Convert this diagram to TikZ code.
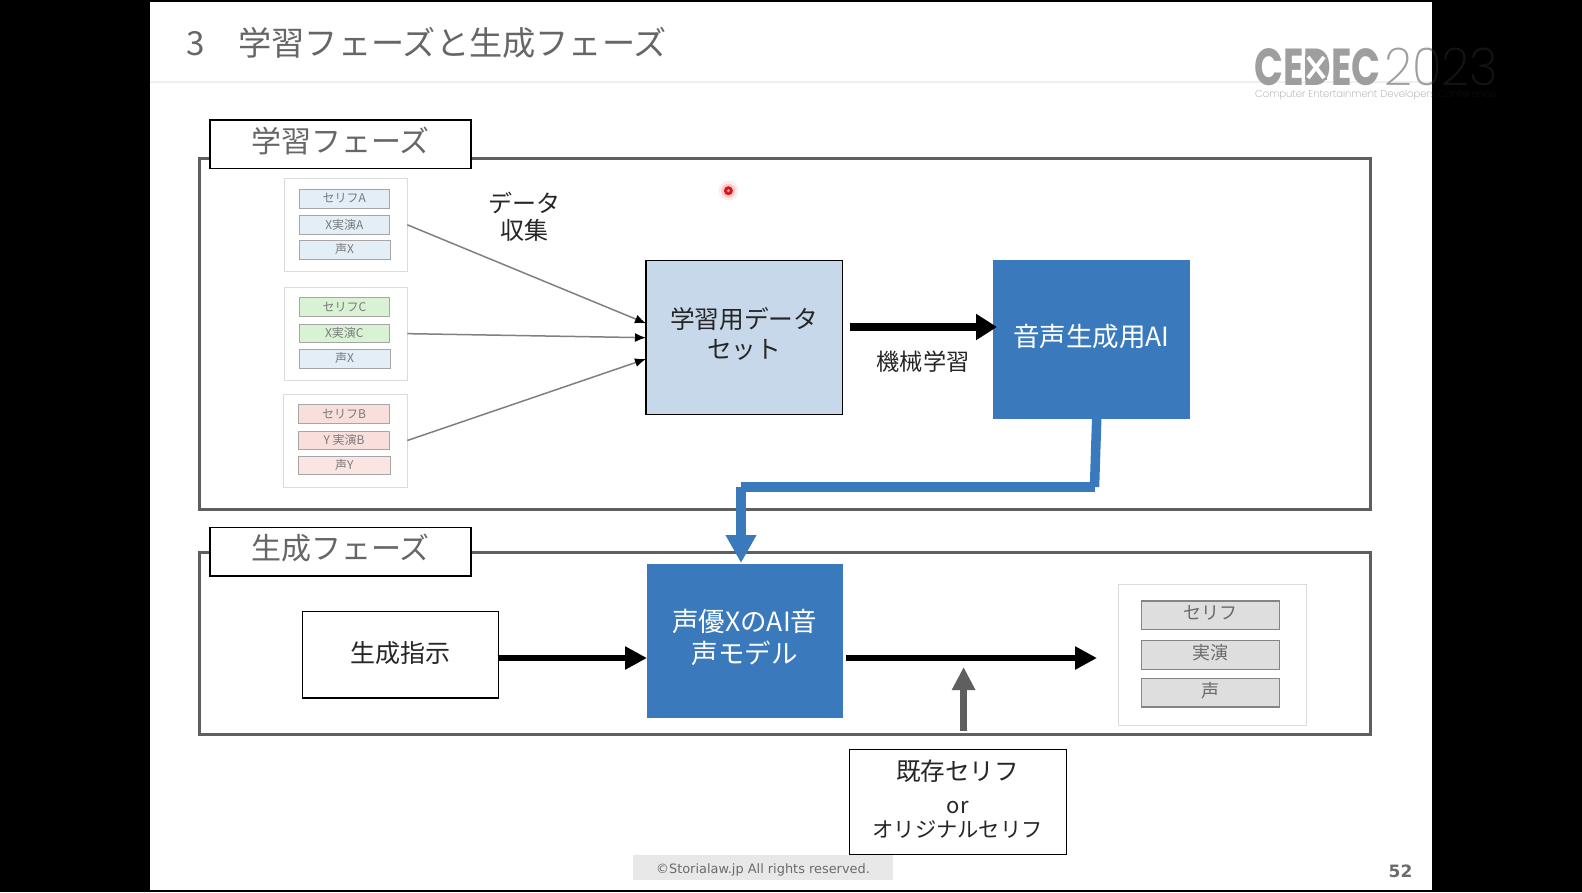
\documentclass[tikz,border=0pt]{standalone}
\usepackage{fontspec}
\usetikzlibrary{arrows.meta}
\setmainfont{Noto Sans CJK JP}
\newfontfamily\logofont{Poppins}[BoldFont=Poppins Bold]
\newfontfamily\logothin{Poppins ExtraLight}
\newfontfamily\latinfont{DejaVu Sans}
\definecolor{slidegray}{HTML}{666666}
\definecolor{framegray}{HTML}{5F5F5F}
\definecolor{aiblue}{HTML}{3A7ABC}
\definecolor{dsblue}{HTML}{C6D8E9}
\definecolor{rowblue}{HTML}{E3EEF6}
\definecolor{rowgreen}{HTML}{D9F2D4}
\definecolor{rowred}{HTML}{F8DFDB}
\definecolor{rowredl}{HTML}{FBE5E3}
\definecolor{inktext}{HTML}{262626}
\tikzset{
  framebox/.style={draw=framegray,line width=3pt,fill=white},
  tabbox/.style={draw=black,line width=1.5pt,fill=white,font=\fontsize{30}{32}\selectfont,text=slidegray},
  card/.style={draw=black!14,line width=1pt,fill=white},
  smallrow/.style={draw=black!35,line width=1pt,font=\fontsize{12}{14}\selectfont,text=black!52},
  bigrow/.style={draw=black!48,line width=1.5pt,fill=black!13,font=\fontsize{18}{20}\selectfont,text=black!58},
  dsbox/.style={draw=black,line width=1.5pt,fill=dsblue,font=\fontsize{24.7}{30}\selectfont,text=inktext},
  aibox/.style={fill=aiblue,font=\fontsize{26.5}{31}\selectfont,text=white},
  plainbox/.style={draw=black,line width=1.5pt,fill=white,text=inktext},
  thinarrow/.style={draw=black!50,line width=1.5pt,-{Latex[black,length=11pt,width=9pt]}},
  thickarrow/.style={draw=black,line width=6.5pt,-{Triangle[length=22pt,width=22pt]}},
  blueline/.style={draw=aiblue,line width=9.5pt,line cap=butt},
  freetext/.style={text=inktext,align=center,inner sep=0pt},
}
\newcommand{\bx}[7]{%
  \pgfmathsetmacro\bw{#5-#3}\pgfmathsetmacro\bh{#6-#4}%
  \node[#1,minimum width=\bw pt,minimum height=\bh pt,inner sep=0pt,outer sep=0pt] (#2) at ({(#3+#5)/2},{(#4+#6)/2}) {#7};}
\newcommand{\up}[2]{\raisebox{#1}[\height][\depth]{\begin{tabular}{@{}c@{}}#2\end{tabular}}}
\begin{document}
\begin{tikzpicture}[x=1pt,y=-1pt]
\useasboundingbox (0,0) rectangle (1582,892);
\fill[black] (0,0) rectangle (1582,892);
\fill[white] (150,2) rectangle (1432.3,890);
% title
\draw[black!6,line width=1.5pt] (150,82) -- (1432.3,82);
\node[anchor=west,inner sep=0pt,text=slidegray,font=\fontsize{33.2}{35}\selectfont] (title) at (186,43) {3\hspace{1.02em}学習フェーズと生成フェーズ};
% logo
\node[anchor=west,inner sep=0pt,text=black!38,font=\logofont\bfseries\fontsize{52}{52}\selectfont,xscale=.73,transform shape] (logoA) at (1254,67) {CEDEC};
\fill[black!38] (1305,55) rectangle (1327,80);
\draw[white,line width=4pt] (1308,57) -- (1324,78) (1324,57) -- (1308,78);
\node[anchor=west,inner sep=0pt,text=black!38,font=\logothin\fontsize{52}{52}\selectfont,xscale=.94,transform shape] (logoB) at (1384,67) {2023};
\node[anchor=west,inner sep=0pt,text=black!38,font=\logothin\fontsize{10}{12}\selectfont] (logoC) at (1255,95) {Computer Entertainment Developers Conference};
\fill[black,opacity=.87] (1432.3,0) rectangle (1582,120);
% frames
\bx{framebox}{frameA}{199}{158.5}{1370.5}{509.5}{}
\bx{framebox}{frameB}{199}{552}{1370.5}{734.5}{}
\bx{tabbox}{tabA}{210}{120}{471}{168.5}{\up{0pt}{学習フェーズ}}
\bx{tabbox}{tabB}{210}{527.7}{471}{576}{\up{0pt}{生成フェーズ}}
% pointer
\fill[red,opacity=.07] (728.4,190.7) circle (10);
\fill[red,opacity=.16] (728.4,190.7) circle (7);
\fill[red!80!black!90] (728.4,190.7) circle (4.5);
\fill[red!35] (728.4,190.7) circle (1.6);
% cards
\bx{card}{cardA}{284}{178.3}{407.3}{271.3}{}
\bx{card}{cardC}{284}{287.3}{407.3}{380}{}
\bx{card}{cardB}{283.3}{394}{407.3}{487}{}
\bx{smallrow,fill=rowblue}{a1}{299}{189}{389.7}{208.3}{\up{-1pt}{セリフA}}
\bx{smallrow,fill=rowblue}{a2}{299}{215.7}{389.7}{234.7}{\up{-1pt}{X実演A}}
\bx{smallrow,fill=rowblue}{a3}{299}{240.7}{390}{259.3}{\up{-1pt}{声X}}
\bx{smallrow,fill=rowgreen}{c1}{299}{297.7}{389.7}{316.7}{\up{-1pt}{セリフC}}
\bx{smallrow,fill=rowgreen}{c2}{299}{324}{389.7}{342.7}{\up{-1pt}{X実演C}}
\bx{smallrow,fill=rowblue}{c3}{299}{349}{390}{368}{\up{-1pt}{声X}}
\bx{smallrow,fill=rowred}{b1}{298.5}{404.7}{389.7}{423.7}{\up{-1pt}{セリフB}}
\bx{smallrow,fill=rowred}{b2}{298.5}{431}{389.7}{449.3}{\up{-1pt}{Y 実演B}}
\bx{smallrow,fill=rowredl}{b3}{298.5}{456}{390}{474.7}{\up{-1pt}{声Y}}
\node[freetext,font=\fontsize{24}{27}\selectfont] (collect) at (524,216.5) {データ\\収集};
% main boxes
\bx{dsbox}{ds}{646}{260.7}{842.5}{414.3}{\up{0pt}{学習用データ\\セット}}
\bx{aibox}{ai}{993}{260}{1190}{419}{\up{0pt}{音声生成用AI}}
\bx{aibox}{model}{647}{564}{842.5}{717.5}{\up{-0.5pt}{声優XのAI音\\声モデル}}
\bx{plainbox,font=\fontsize{25}{28}\selectfont}{cmd}{302.7}{611.5}{498.5}{698}{\up{-1pt}{生成指示}}
\node[freetext,font=\fontsize{23.2}{25}\selectfont] (mlabel) at (923,362) {機械学習};
% input box
\bx{plainbox}{src}{849.6}{749.7}{1066.5}{854.6}{}
\node[freetext,font=\fontsize{24.6}{27}\selectfont] (srcA) at (957.6,771) {既存セリフ};
\node[freetext,font=\fontsize{22}{24}\selectfont] (srcB) at (957.6,808) {or};
\node[freetext,font=\fontsize{21.3}{24}\selectfont] (srcC) at (957.6,829.4) {オリジナルセリフ};
% output card
\bx{card}{outcard}{1118.3}{584.7}{1306.7}{725.3}{}
\bx{bigrow}{o1}{1141.3}{601}{1279.3}{629.7}{\up{0pt}{セリフ}}
\bx{bigrow}{o2}{1141.3}{640.7}{1279.3}{669.3}{\up{0pt}{実演}}
\bx{bigrow}{o3}{1141.3}{678.7}{1279.7}{707}{\up{0pt}{声}}
% connector end points
\coordinate (dsinA) at (646,323.3);
\coordinate (dsinC) at (646,337.7);
\coordinate (dsinB) at (646,359);
\coordinate (dsout) at (850,327);
\coordinate (aiin) at (997,327);
\coordinate (aiout) at (1096.7,419);
\coordinate (bendA) at (1094.5,487);
\coordinate (bendB) at (741,487);
\coordinate (modelin) at (741,563);
\coordinate (cmdout) at (498.5,658);
\coordinate (modelinL) at (647,658);
\coordinate (modelout) at (845.5,658);
\coordinate (outin) at (1097,658);
\coordinate (srcout) at (963.6,730.5);
\coordinate (srcin) at (963.6,667);
% connectors
\draw[thinarrow] (cardA.east) -- (dsinA);
\draw[thinarrow] (cardC.east) -- (dsinC);
\draw[thinarrow] (cardB.east) -- (dsinB);
\draw[thickarrow,line width=8pt,-{Triangle[length=21pt,width=25pt]}] (dsout) -- (aiin);
\draw[blueline] (aiout) -- (bendA);
\draw[blueline] (bendA) -- (bendB);
\draw[blueline,-{Triangle[aiblue,length=28pt,width=29pt]}] (bendB) -- (modelin);
\draw[thickarrow] (cmdout) -- (modelinL);
\draw[thickarrow] (modelout) -- (outin);
\draw[draw=framegray,line width=7pt,-{Triangle[framegray,length=23pt,width=22pt]}] (srcout) -- (srcin);
% footer
\fill[black!9] (632.6,854.6) rectangle (893,880);
\node[inner sep=0pt,text=black!58,font=\latinfont\fontsize{12.9}{15}\selectfont] (foot) at (763,870) {©Storialaw.jp All rights reserved.};
\node[inner sep=0pt,text=black!58,font=\latinfont\bfseries\fontsize{17}{19}\selectfont] (pageno) at (1400.5,871) {52};
\end{tikzpicture}
\end{document}
